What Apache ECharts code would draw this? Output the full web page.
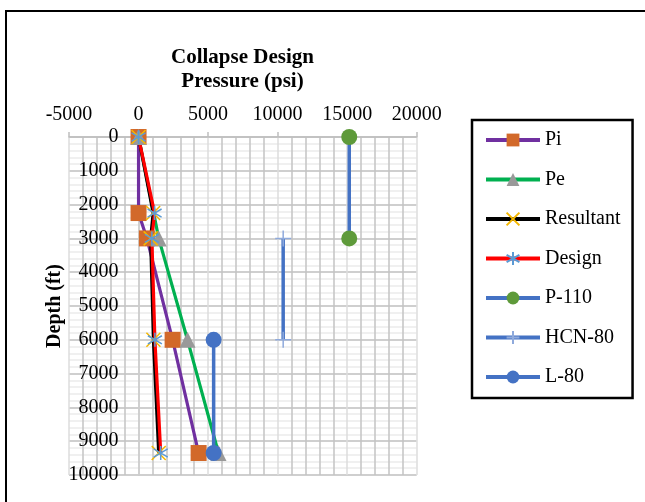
<!DOCTYPE html>
<html>
<head>
<meta charset="utf-8">
<script src="https://cdn.jsdelivr.net/npm/echarts@6/dist/echarts.min.js"></script>
<style>
html,body{margin:0;padding:0;background:#fff;}
#chart{width:645px;height:502px;}
</style>
</head>
<body>
<div id="chart"></div>
<script>
// ---- data (pressure in psi, depth in ft) ----
const xTicks = [-5000, 0, 5000, 10000, 15000, 20000];
const yTicks = [0, 1000, 2000, 3000, 4000, 5000, 6000, 7000, 8000, 9000, 10000];

const piDepth = [0, 2250, 3000, 6000, 9350];
const piPressure = [0, 0, 600, 2450, 4320];

const peDepth = [0, 3000, 6000, 9350];
const pePressure = [0, 1450, 3520, 5750];

const resDepth = [0, 2250, 3000, 6000, 9350];
const resultantPressure = [0, 1050, 870, 1070, 1450];

const designDepth = [0, 2250, 3000, 6000, 9350];
const designPressure = [0, 1155, 957, 1177, 1595];

const p110Depth = [0, 3000];
const p110Pressure = [15150, 15150];

const hcn80Depth = [3000, 6000];
const hcn80Pressure = [10400, 10400];

const l80Depth = [6000, 9350];
const l80Pressure = [5400, 5400];

function pts(xs, ys) { return xs.map((x, i) => [x, ys[i]]); }

const FONT = '"Liberation Serif", "Times New Roman", serif';
const X_PATH = 'path://M0,0L10,10M10,0L0,10';
const AST_PATH = 'path://M5,0L5,10M0,2.1L10,7.9M0,7.9L10,2.1';
const PLUS_PATH = 'path://M5,0L5,10M0,5L10,5';

const GRID_LEFT = 69, GRID_RIGHT_X = 416.7, GRID_TOP = 137, GRID_BOTTOM_Y = 475;
const chart = echarts.init(document.getElementById('chart'), null, {renderer: 'canvas'});

// y axis crosses the pressure axis at 0 psi
const plotW = GRID_RIGHT_X - GRID_LEFT;
const zeroOffset = -plotW * (0 - xTicks[0]) / (xTicks[xTicks.length - 1] - xTicks[0]);

const option = {
  animation: false,
  backgroundColor: '#ffffff',
  title: {
    text: 'Collapse Design\nPressure (psi)',
    left: 242.5,
    textAlign: 'center',
    top: 46,
    padding: 0,
    textStyle: {fontFamily: FONT, fontSize: 21, fontWeight: 'bold', color: '#000', lineHeight: 24}
  },
  graphic: [{
    type: 'rect',
    shape: {x: 6, y: 11, width: 700, height: 600},
    style: {fill: 'none', stroke: '#000', lineWidth: 2},
    silent: true, z: 100
  }, {
    type: 'text',
    x: 55, y: (GRID_TOP + GRID_BOTTOM_Y) / 2,
    rotation: Math.PI / 2,
    silent: true,
    style: {
      text: 'Depth (ft)',
      font: 'bold 20px "Liberation Serif", serif',
      fill: '#000',
      textAlign: 'center', textVerticalAlign: 'middle',
      align: 'center', verticalAlign: 'middle'
    }
  }],
  legend: {
    orient: 'vertical',
    left: 472, top: 120,
    padding: [10, 12, 11, 12],
    itemWidth: 54, itemHeight: 16,
    itemGap: 19.5,
    borderColor: '#000', borderWidth: 2.5,
    lineStyle: {width: 4},
    textStyle: {fontFamily: FONT, fontSize: 20, color: '#000', lineHeight: 20},
    data: ['Pi', 'Pe', 'Resultant', 'Design', 'P-110', 'HCN-80', 'L-80']
  },
  grid: {left: GRID_LEFT, top: GRID_TOP, right: 645 - GRID_RIGHT_X, bottom: 502 - GRID_BOTTOM_Y, containLabel: false, outerBoundsMode: 'none'},
  xAxis: {
    type: 'value',
    position: 'top',
    min: xTicks[0], max: xTicks[xTicks.length - 1], interval: 5000,
    axisLine: {show: true, onZero: false, lineStyle: {color: '#BFBFBF', width: 1.5}},
    axisTick: {show: true, inside: false, length: 5, lineStyle: {color: '#BFBFBF', width: 1.5}},
    axisLabel: {fontFamily: FONT, fontSize: 20, color: '#000', margin: 12, formatter: v => String(v)},
    splitLine: {show: true, lineStyle: {color: '#DCDCDC', width: 1.5}},
    minorTick: {show: false, splitNumber: 5},
    minorSplitLine: {show: true, lineStyle: {color: '#C4C4C4', width: 1.5}}
  },
  yAxis: {
    type: 'value',
    inverse: true,
    position: 'left',
    offset: zeroOffset,
    min: yTicks[0], max: yTicks[yTicks.length - 1], interval: 1000,
    axisLine: {show: true, onZero: false, lineStyle: {color: '#C8C8C8', width: 1.5}},
    axisTick: {show: false},
    axisLabel: {fontFamily: FONT, fontSize: 20, color: '#000', margin: 20, formatter: v => String(v)},
    splitLine: {show: true, lineStyle: {color: '#BFBFBF', width: 1.5}},
    minorTick: {show: false, splitNumber: 5},
    minorSplitLine: {show: true, lineStyle: {color: '#EBEBEB', width: 1.5}}
  },
  series: [
    {
      name: 'Pi', type: 'line', data: pts(piPressure, piDepth),
      symbol: 'rect', symbolSize: 16,
      lineStyle: {color: '#7030A0', width: 3.2},
      itemStyle: {color: '#D2692A'}
    },
    {
      name: 'Pe', type: 'line', data: pts(pePressure, peDepth),
      symbol: 'triangle', symbolSize: 16,
      lineStyle: {color: '#00B050', width: 3.2},
      itemStyle: {color: '#999999'}
    },
    {
      name: 'Resultant', type: 'line', data: pts(resultantPressure, resDepth),
      symbol: X_PATH, symbolSize: 14,
      lineStyle: {color: '#000000', width: 3.2},
      itemStyle: {color: 'rgba(0,0,0,0)', borderColor: '#F5B800', borderWidth: 1.5}
    },
    {
      name: 'Design', type: 'line', data: pts(designPressure, designDepth),
      symbol: AST_PATH, symbolSize: 14,
      lineStyle: {color: '#FF0000', width: 3.2},
      itemStyle: {color: 'rgba(0,0,0,0)', borderColor: '#5B9BD5', borderWidth: 1.5}
    },
    {
      name: 'P-110', type: 'line', data: pts(p110Pressure, p110Depth),
      symbol: 'circle', symbolSize: 16,
      lineStyle: {color: '#4472C4', width: 3.5},
      itemStyle: {color: '#5E9A3A'}
    },
    {
      name: 'HCN-80', type: 'line', data: pts(hcn80Pressure, hcn80Depth),
      symbol: PLUS_PATH, symbolSize: 16,
      lineStyle: {color: '#4472C4', width: 3.5},
      itemStyle: {color: 'rgba(0,0,0,0)', borderColor: '#8FAADC', borderWidth: 1.5}
    },
    {
      name: 'L-80', type: 'line', data: pts(l80Pressure, l80Depth),
      symbol: 'circle', symbolSize: 16,
      lineStyle: {color: '#4472C4', width: 3.5},
      itemStyle: {color: '#4472C4'}
    }
  ]
};
chart.setOption(option);
</script>
</body>
</html>
